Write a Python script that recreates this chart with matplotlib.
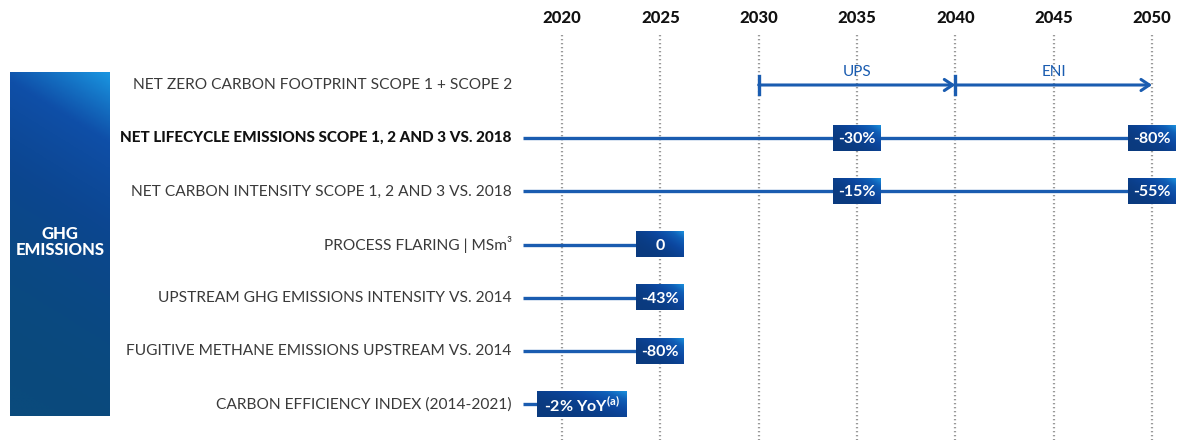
import numpy as np
import matplotlib.pyplot as plt
from matplotlib.colors import LinearSegmentedColormap

# ---- data ----
years = [2020, 2025, 2030, 2035, 2040, 2045, 2050]
row_labels = [
    "NET ZERO CARBON FOOTPRINT SCOPE 1 + SCOPE 2",
    "NET LIFECYCLE EMISSIONS SCOPE 1, 2 AND 3 VS. 2018",
    "NET CARBON INTENSITY SCOPE 1, 2 AND 3 VS. 2018",
    "PROCESS FLARING | MSm³",
    "UPSTREAM GHG EMISSIONS INTENSITY VS. 2014",
    "FUGITIVE METHANE EMISSIONS UPSTREAM VS. 2014",
    "CARBON EFFICIENCY INDEX (2014-2021)",
]
bold_row = 1
line_start = 2018
line_end = [None, 2050, 2050, 2025, 2025, 2025, 2021]

# target boxes: (row, year, text)
target_rows = [1, 1, 2, 2, 3, 4, 5, 6]
target_years = [2035, 2050, 2035, 2050, 2025, 2025, 2025, 2021]
target_texts = ["-30%", "-80%", "-15%", "-55%", "0", "-43%", "-80%",
                "-2% YoY$^{\\mathregular{(a)}}$"]

# row 0 arrows
arrow_starts = [2030, 2040]
arrow_ends = [2040, 2050]
arrow_names = ["UPS", "ENI"]

group_label = "GHG\nEMISSIONS"

# ---- figure ----
plt.rcParams['font.family'] = ['Lato', 'DejaVu Sans']
W, H = 1183, 440
fig = plt.figure(figsize=(W / 100, H / 100), dpi=100)
ax = fig.add_axes([0, 0, 1, 1])

px_per_year = 19.67
x0_px = 562
row0_px, row_step = 85, 53.2
x_left = 2020 - x0_px / px_per_year
x_right = 2020 + (W - x0_px) / px_per_year
y_top = -row0_px / row_step
y_bot = (H - row0_px) / row_step
ax.set_xlim(x_left, x_right)
ax.set_ylim(y_bot, y_top)
ax.axis("off")

blue = "#1a5cb0"

# vertical dotted grid + year labels
grid_top = y_top + 35 / row_step
for yr in years:
    ax.plot([yr, yr], [grid_top, y_bot], color="#9a9a9a", lw=1.6,
            linestyle=(0, (0.6, 1.2)), zorder=1)
    ax.text(yr, y_top + 18 / row_step, str(yr), ha="center", va="center",
            fontsize=12, fontweight="black", color="#111111")

# gradient helper
cmap_box = LinearSegmentedColormap.from_list(
    "box", ["#0a3a7e", "#0c47a0", "#1060b8", "#1a8fdc"])
gx, gy = np.meshgrid(np.linspace(0, 1, 60), np.linspace(0, 1, 30))
grad = np.clip(gx * 0.55 + (1 - gy) * 0.45, 0, 1) ** 2.5

def grad_box(x_a, x_b, y_a, y_b, cmap, z=5):
    ax.imshow(grad, cmap=cmap, extent=(x_a, x_b, y_b, y_a), aspect="auto",
              origin="upper", zorder=z, interpolation="bilinear")

# left group panel
cmap_panel = LinearSegmentedColormap.from_list(
    "panel", ["#0a4a7c", "#0c4690", "#0f4fa8", "#1a95e0"])
px_x = lambda p: x_left + p / px_per_year
px_y = lambda p: y_top + p / row_step
pgx, pgy = np.meshgrid(np.linspace(0, 1, 40), np.linspace(0, 1, 120))
panel_grad = np.clip((1 - pgy) * 0.85 + pgx * 0.15, 0, 1)
panel_grad = panel_grad ** 2.2
ax.imshow(panel_grad, cmap=cmap_panel,
          extent=(px_x(10), px_x(110), px_y(416), px_y(73)),
          aspect="auto", origin="upper", zorder=2, interpolation="bilinear")
ax.text(px_x(60), px_y(242), group_label, ha="center", va="center",
        fontsize=12, fontweight="black", color="white", linespacing=1.05, zorder=3)

# row labels and lines
for i, lab in enumerate(row_labels):
    ax.text(line_start - 0.55, i, lab, ha="right", va="center",
            fontsize=11 if i == bold_row else 11.2,
            color="#111111" if i == bold_row else "#3a3a3a",
            fontweight="black" if i == bold_row else "normal")
    if line_end[i] is not None:
        ax.plot([line_start, line_end[i]], [i, i], color=blue, lw=2.4,
                solid_capstyle="butt", zorder=3)

# row 0 arrows
for s, e, name in zip(arrow_starts, arrow_ends, arrow_names):
    ax.annotate("", xy=(e, 0), xytext=(s, 0),
                arrowprops=dict(arrowstyle="->,head_length=0.6,head_width=0.4",
                                color=blue, lw=2.2, shrinkA=0, shrinkB=0),
                zorder=4)
    ax.plot([s, s], [-0.17, 0.17], color=blue, lw=2.4, zorder=4)
    ax.text((s + e) / 2, -0.24, name, ha="center", va="center",
            fontsize=11, color=blue)

# target boxes
box_h = 0.47
for r, yr, t in zip(target_rows, target_years, target_texts):
    w = 4.55 if "YoY" in t else 2.44
    grad_box(yr - w / 2, yr + w / 2, r - box_h / 2, r + box_h / 2, cmap_box)
    ax.text(yr, r + 0.02, t, ha="center", va="center", fontsize=11.5,
            color="white", fontweight="bold", zorder=6)

fig.savefig("out.png", dpi=100)
